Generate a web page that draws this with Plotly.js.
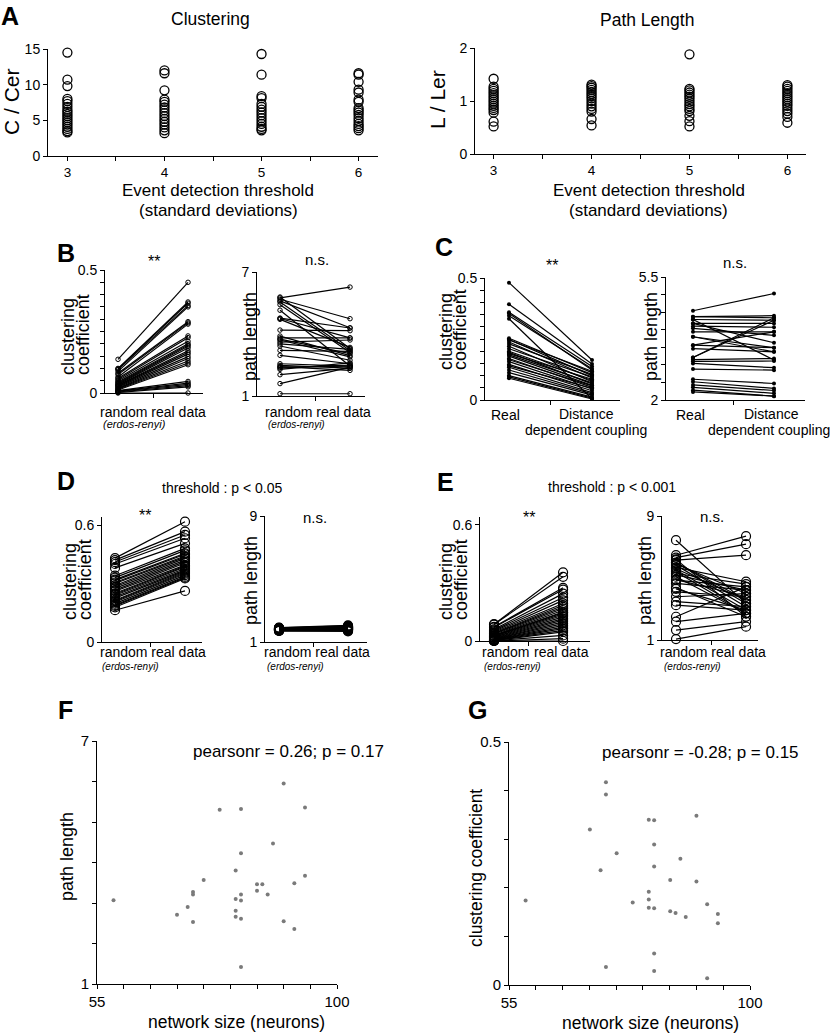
<!DOCTYPE html>
<html><head><meta charset="utf-8">
<script src="https://cdn.plot.ly/plotly-3.0.1.min.js"></script>
<style>html,body{margin:0;padding:0;background:#fff}#plot{width:832px;height:1034px}</style>
</head><body><div id="plot"></div>
<script>
// ---------- DATA ----------
const thresholds = [3, 4, 5, 6];
const thresholdTickText = ['3', '', '4', '', '5', '', '6'];
// Panel A: C / Cer per threshold
const ccer3 = [14.5, 10.7, 9.8, 8.0, 7.7, 7.3, 6.9, 6.5, 6.2, 5.9, 5.6, 5.3, 5.0, 4.7, 4.4, 4.1, 3.8, 3.5, 3.3];
const ccer4 = [12.0, 11.6, 9.2, 7.9, 7.6, 7.2, 6.8, 6.4, 6.0, 5.6, 5.2, 4.8, 4.4, 4.0, 3.6, 3.2];
const ccer5 = [14.3, 11.4, 8.4, 8.1, 7.3, 6.9, 6.5, 6.1, 5.7, 5.3, 4.9, 4.5, 4.1, 3.8, 3.6];
const ccer6 = [11.6, 11.4, 10.4, 9.3, 8.9, 7.9, 7.6, 6.7, 6.4, 6.1, 5.75, 5.3, 4.9, 4.5, 4.2, 3.9, 3.6];
// Panel A: L / Ler per threshold
const ller3 = [1.42, 1.27, 1.23, 1.19, 1.15, 1.11, 1.07, 1.03, 0.99, 0.95, 0.91, 0.87, 0.83, 0.78, 0.61, 0.52];
const ller4 = [1.31, 1.28, 1.25, 1.21, 1.17, 1.13, 1.09, 1.05, 1.0, 0.95, 0.9, 0.85, 0.8, 0.66, 0.54];
const ller5 = [1.88, 1.23, 1.20, 1.16, 1.12, 1.08, 1.04, 0.99, 0.94, 0.90, 0.85, 0.81, 0.72, 0.62, 0.52];
const ller6 = [1.30, 1.27, 1.23, 1.19, 1.15, 1.11, 1.07, 1.03, 0.99, 0.95, 0.91, 0.86, 0.81, 0.76, 0.70, 0.59];

// Panel B
const bClustRandom = [0.137, 0.10, 0.098, 0.095, 0.088, 0.08, 0.075, 0.065, 0.06, 0.055, 0.05, 0.045, 0.042, 0.038, 0.035, 0.032, 0.03, 0.027, 0.024, 0.02, 0.018, 0.015, 0.012, 0.01, 0.008, 0.006, 0.004, 0.002, 0.0];
const bClustReal   = [0.45, 0.37, 0.365, 0.355, 0.35, 0.29, 0.285, 0.28, 0.232, 0.225, 0.21, 0.20, 0.195, 0.19, 0.183, 0.172, 0.165, 0.158, 0.148, 0.14, 0.13, 0.122, 0.115, 0.047, 0.04, 0.035, 0.03, 0.025, 0.0];
const bPathRandom = [5.75, 5.79, 5.68, 5.55, 5.42, 5.15, 4.77, 4.71, 4.19, 3.81, 3.75, 3.71, 3.61, 3.52, 3.42, 3.21, 2.97, 2.56, 2.48, 2.42, 2.35, 2.29, 2.03, 1.6, 1.11, 3.9, 4.75, 2.4, 5.6];
const bPathReal   = [6.27, 3.3, 4.74, 3.2, 3.1, 2.45, 4.29, 3.35, 4.16, 3.81, 3.05, 2.89, 3.71, 3.26, 2.73, 3.16, 2.56, 2.45, 2.35, 2.24, 2.5, 2.6, 2.35, 2.4, 1.11, 2.95, 3.81, 2.45, 4.3];

// Panel C
const cClustReal = [0.481, 0.392, 0.36, 0.355, 0.345, 0.333, 0.253, 0.248, 0.246, 0.238, 0.23, 0.22, 0.21, 0.2, 0.195, 0.19, 0.185, 0.18, 0.17, 0.165, 0.157, 0.146, 0.14, 0.134, 0.123, 0.112, 0.10, 0.095, 0.089];
const cClustDist = [0.164, 0.148, 0.137, 0.123, 0.128, 0.005, 0.112, 0.10, 0.118, 0.09, 0.105, 0.075, 0.095, 0.08, 0.066, 0.085, 0.07, 0.06, 0.052, 0.058, 0.045, 0.038, 0.048, 0.03, 0.025, 0.02, 0.012, 0.008, 0.004];
const cPathReal = [4.54, 4.37, 4.37, 4.29, 4.29, 4.18, 4.18, 4.10, 4.04, 3.94, 3.80, 3.80, 3.56, 3.56, 3.46, 3.21, 3.21, 3.15, 3.10, 3.04, 2.88, 2.59, 2.52, 2.43, 2.36, 2.28, 2.23];
const cPathDist = [5.03, 4.40, 4.34, 4.27, 3.14, 4.18, 3.63, 4.07, 3.84, 3.94, 3.37, 3.49, 3.94, 3.49, 3.37, 4.34, 4.27, 3.18, 3.11, 2.92, 2.85, 2.47, 2.33, 2.27, 2.19, 2.11, 2.11];

// Panel D (p < 0.05)
const dClustRandom = [0.43, 0.42, 0.41, 0.40, 0.38, 0.34, 0.33, 0.32, 0.315, 0.305, 0.30, 0.29, 0.283, 0.275, 0.266, 0.26, 0.25, 0.245, 0.24, 0.232, 0.225, 0.214, 0.21, 0.205, 0.197, 0.19, 0.185, 0.178, 0.163];
const dClustReal   = [0.617, 0.566, 0.549, 0.532, 0.506, 0.48, 0.47, 0.455, 0.45, 0.441, 0.435, 0.429, 0.42, 0.412, 0.405, 0.394, 0.39, 0.385, 0.377, 0.37, 0.365, 0.36, 0.355, 0.35, 0.343, 0.335, 0.33, 0.326, 0.262];
const dPathRandom = [1.92, 1.90, 1.89, 1.88, 1.87, 1.86, 1.85, 1.85, 1.84, 1.83, 1.83, 1.82, 1.81, 1.81, 1.80, 1.80, 1.79, 1.78, 1.78, 1.77, 1.77, 1.76, 1.75, 1.75, 1.74, 1.73, 1.72, 1.71, 1.70];
const dPathReal   = [2.05, 2.02, 2.0, 1.98, 1.97, 1.96, 1.95, 1.94, 1.93, 1.92, 1.91, 1.9, 1.89, 1.88, 1.87, 1.86, 1.85, 1.84, 1.83, 1.82, 1.81, 1.8, 1.79, 1.78, 1.77, 1.75, 1.73, 1.7, 1.68];

// Panel E (p < 0.001)
const eClustRandom = [0.087, 0.085, 0.073, 0.07, 0.06, 0.055, 0.05, 0.045, 0.04, 0.038, 0.035, 0.03, 0.028, 0.025, 0.024, 0.02, 0.018, 0.015, 0.012, 0.01, 0.008, 0.006, 0.005, 0.004, 0.003, 0.002, 0.001, 0.0, 0.0];
const eClustReal   = [0.355, 0.332, 0.275, 0.266, 0.245, 0.225, 0.21, 0.194, 0.185, 0.176, 0.168, 0.159, 0.15, 0.147, 0.14, 0.133, 0.125, 0.116, 0.108, 0.099, 0.09, 0.081, 0.072, 0.064, 0.055, 0.047, 0.029, 0.012, 0.0];
const ePathRandom = [7.44, 6.47, 6.32, 6.15, 5.98, 5.83, 5.68, 5.51, 5.29, 5.08, 4.86, 4.65, 4.39, 4.11, 3.79, 3.47, 3.25, 2.50, 2.18, 1.64, 1.06, 6.2, 6.0, 5.9, 5.6, 5.4, 5.2, 4.9, 4.3];
const ePathReal   = [3.36, 7.70, 7.18, 6.47, 3.58, 3.15, 4.76, 2.93, 4.61, 2.72, 4.43, 4.22, 2.5, 3.79, 4.0, 3.15, 2.93, 4.43, 2.72, 2.18, 1.86, 2.5, 3.36, 4.0, 3.58, 2.72, 4.22, 3.79, 2.93];

// Panel F
const fSize = [58.1, 70, 72, 73, 73, 73, 75, 78, 81, 81, 81, 81, 82, 82, 82, 82, 82, 82, 85, 85, 86, 87, 88, 90, 90, 92, 92, 94, 94];
const fPath = [3.07, 2.71, 2.90, 2.53, 3.27, 3.21, 3.57, 5.30, 3.80, 3.10, 2.81, 2.66, 5.32, 4.23, 3.21, 3.06, 2.61, 1.42, 3.46, 3.30, 3.46, 3.21, 4.47, 5.95, 2.55, 3.49, 2.36, 5.36, 3.67];
// Panel G
const gSize = [58.1, 70.1, 72.1, 73.1, 73.1, 73.1, 75.1, 78.1, 81.1, 81.1, 81.1, 81.1, 82.1, 82.1, 82.1, 82.1, 82.1, 82.1, 85.1, 85.1, 86.1, 87, 88, 90, 90, 92, 92, 94, 94];
const gClust = [0.174, 0.320, 0.236, 0.417, 0.392, 0.037, 0.271, 0.170, 0.340, 0.192, 0.176, 0.159, 0.339, 0.289, 0.244, 0.158, 0.065, 0.029, 0.216, 0.152, 0.148, 0.260, 0.140, 0.348, 0.213, 0.166, 0.014, 0.146, 0.127];

// ---------- LAYOUT HELPERS ----------
const W = 832, H = 1034;
const FONT = 'Liberation Sans, Arial, Helvetica, sans-serif';
const xd = (a, b) => [a / W, b / W];
const yd = (top, bottom) => [1 - bottom / H, 1 - top / H];
function seq(a, b, s) { const o = []; for (let v = a; v <= b + 1e-9; v += s) o.push(+v.toFixed(4)); return o; }
function ends(vals, first, last) { return vals.map((v, i) => i === 0 ? first : (i === vals.length - 1 ? last : '')); }
function ax(domain, range, anchor, tickvals, ticktext, size) {
  return {
    domain, range, anchor, tickmode: 'array', tickvals, ticktext,
    showline: true, linecolor: '#000', linewidth: 1, mirror: false,
    ticks: tickvals.length ? 'outside' : '', ticklen: 4, tickwidth: 1, tickcolor: '#000',
    showgrid: false, zeroline: false, fixedrange: true,
    tickfont: { family: FONT, size: size || 14, color: '#000' }
  };
}
const pairX = (lo, hi, dom, anchor) => ax(dom, [lo, hi], anchor, [0.5], [''], 14);

function pairTrace(a, b, xa, ya, marker) {
  const x = [], y = [];
  for (let i = 0; i < a.length; i++) { x.push(0, 1, null); y.push(a[i], b[i], null); }
  return { x, y, xaxis: xa, yaxis: ya, type: 'scatter', mode: 'lines+markers',
    line: { color: '#000', width: 1.2 }, marker, cliponaxis: false, connectgaps: false, hoverinfo: 'skip', showlegend: false };
}
function colTrace(cols, xa, ya) {
  const x = [], y = [];
  cols.forEach((c, i) => c.forEach(v => { x.push(thresholds[i]); y.push(v); }));
  return { x, y, xaxis: xa, yaxis: ya, type: 'scatter', mode: 'markers',
    marker: { symbol: 'circle-open', size: 9, color: '#000', line: { width: 1.3, color: '#000' } },
    cliponaxis: false, hoverinfo: 'skip', showlegend: false };
}
function dotTrace(x, y, xa, ya) {
  return { x, y, xaxis: xa, yaxis: ya, type: 'scatter', mode: 'markers',
    marker: { symbol: 'circle', size: 4, color: '#7a7a7a' }, cliponaxis: false, hoverinfo: 'skip', showlegend: false };
}

const smallOpen = { symbol: 'circle-open', size: 4.5, color: '#000', line: { width: 1, color: '#000' } };
const smallDot = { symbol: 'circle', size: 4, color: '#000' };
const bigOpen = { symbol: 'circle-open', size: 9, color: '#000', line: { width: 1.2, color: '#000' } };

const traces = [
  colTrace([ccer3, ccer4, ccer5, ccer6], 'x', 'y'),
  colTrace([ller3, ller4, ller5, ller6], 'x2', 'y2'),
  pairTrace(bClustRandom, bClustReal, 'x3', 'y3', smallOpen),
  pairTrace(bPathRandom, bPathReal, 'x4', 'y4', smallOpen),
  pairTrace(cClustReal, cClustDist, 'x5', 'y5', smallDot),
  pairTrace(cPathReal, cPathDist, 'x6', 'y6', smallDot),
  pairTrace(dClustRandom, dClustReal, 'x7', 'y7', bigOpen),
  pairTrace(dPathRandom, dPathReal, 'x8', 'y8', bigOpen),
  pairTrace(eClustRandom, eClustReal, 'x9', 'y9', bigOpen),
  pairTrace(ePathRandom, ePathReal, 'x10', 'y10', bigOpen),
  dotTrace(fSize, fPath, 'x11', 'y11'),
  dotTrace(gSize, gClust, 'x12', 'y12')
];

const thrTicks = [3, 3.5, 4, 4.5, 5, 5.5, 6];
const clTicks05 = seq(0, 0.5, 0.05);
const cpTicks = seq(2, 5.5, 0.5);
const fxTicks = seq(55, 100, 5);
const fyTicks = seq(1, 7, 1);
const gyTicks = seq(0, 0.5, 0.1);

const layout = {
  width: W, height: H, margin: { l: 0, r: 0, t: 0, b: 0 },
  paper_bgcolor: '#fff', plot_bgcolor: 'rgba(0,0,0,0)', showlegend: false,
  font: { family: FONT, color: '#000' },
  // A
  xaxis: ax(xd(48, 378), [2.8, 6.2], 'y', thrTicks, thresholdTickText, 13.5),
  yaxis: ax(yd(49, 156), [0, 15], 'x', [0, 5, 10, 15], ['0', '5', '10', '15']),
  xaxis2: ax(xd(475, 806), [2.81, 6.19], 'y2', thrTicks, thresholdTickText, 13.5),
  yaxis2: ax(yd(48, 154), [0, 2], 'x2', [0, 1, 2], ['0', '1', '2']),
  // B
  xaxis3: pairX(-0.186, 1.214, xd(105, 203), 'y3'),
  yaxis3: ax(yd(270, 393), [0, 0.5], 'x3', clTicks05, ends(clTicks05, '0', '0.5')),
  xaxis4: pairX(-0.329, 1.214, xd(257, 365), 'y4'),
  yaxis4: ax(yd(272, 396), [1, 7], 'x4', [1, 7], ['1', '7']),
  // C
  xaxis5: pairX(-0.289, 1.337, xd(485, 620), 'y5'),
  yaxis5: ax(yd(278, 400), [0, 0.5], 'x5', clTicks05, ends(clTicks05, '0', '0.5')),
  xaxis6: pairX(-0.333, 1.383, xd(666, 805), 'y6'),
  yaxis6: ax(yd(277, 400), [2, 5.5], 'x6', cpTicks, ends(cpTicks, '2', '5.5')),
  // D
  xaxis7: pairX(-0.186, 1.243, xd(102, 202), 'y7'),
  yaxis7: ax(yd(517, 642), [0, 0.641], 'x7', [0, 0.6], ['0', '0.6']),
  xaxis8: pairX(-0.203, 1.275, xd(265, 367), 'y8'),
  yaxis8: ax(yd(516, 642), [1, 9], 'x8', [1, 9], ['1', '9']),
  // E
  xaxis9: pairX(-0.203, 1.39, xd(480, 590), 'y9'),
  yaxis9: ax(yd(517, 641), [0, 0.641], 'x9', [0, 0.6], ['0', '0.6']),
  xaxis10: pairX(-0.2, 1.171, xd(662, 758), 'y10'),
  yaxis10: ax(yd(516, 640), [1, 9], 'x10', [1, 9], ['1', '9']),
  // F
  xaxis11: ax(xd(97, 337), [55, 100], 'y11', fxTicks, ends(fxTicks, '55', '100'), 15),
  yaxis11: ax(yd(741, 984), [1, 7], 'x11', fyTicks, ends(fyTicks, '1', '7'), 15),
  // G
  xaxis12: ax(xd(509, 750), [55, 100], 'y12', fxTicks, ends(fxTicks, '55', '100'), 15),
  yaxis12: ax(yd(742, 985), [0, 0.5], 'x12', gyTicks, ends(gyTicks, '0', '0.5'), 15),
  annotations: []
};

function T(text, x, y, size, opts) {
  return Object.assign({ text, x: x / W, y: 1 - y / H, xref: 'paper', yref: 'paper', showarrow: false,
    font: { family: FONT, size, color: '#000' }, xanchor: 'center', yanchor: 'middle' }, opts || {});
}
const R = { textangle: -90 };
const A = layout.annotations;
// panel letters
[['A', 10, 16], ['B', 66, 253], ['C', 444, 247], ['D', 66, 481], ['E', 445, 482], ['F', 65, 710], ['G', 478, 710]]
  .forEach(([t, x, y]) => A.push(T('<b>' + t + '</b>', x, y, 25)));
// A
A.push(T('Clustering', 210, 19, 17.5));
A.push(T('Path Length', 647, 20, 17.5));
A.push(T('C / Cer', 12, 102, 21, R));
A.push(T('L / Ler', 438, 100, 21, R));
A.push(T('Event detection threshold', 218, 190, 17));
A.push(T('(standard deviations)', 218, 211, 17));
A.push(T('Event detection threshold', 649, 190, 17));
A.push(T('(standard deviations)', 648, 211, 17));
// B
A.push(T('**', 154, 261, 16));
A.push(T('n.s.', 317, 259, 15));
A.push(T('clustering', 68, 337, 18, R));
A.push(T('coefficient', 83, 335, 18, R));
A.push(T('path length', 250, 337, 18, R));
A.push(T('random real data', 153, 412, 14));
A.push(T('<i>(erdos-renyi)</i>', 101, 424, 11, { xanchor: 'left' }));
A.push(T('random real data', 318, 412, 14));
A.push(T('<i>(erdos-renyi)</i>', 266, 424, 10, { xanchor: 'left' }));
// C
A.push(T('**', 552, 265, 16));
A.push(T('n.s.', 735, 262, 15));
A.push(T('clustering', 446, 332, 18, R));
A.push(T('coefficient', 460, 330, 18, R));
A.push(T('path length', 651, 337, 18, R));
A.push(T('Real', 506, 415, 14));
A.push(T('Distance', 586, 414, 14));
A.push(T('dependent coupling', 586, 430, 14));
A.push(T('Real', 690, 415, 14));
A.push(T('Distance', 771, 414, 14));
A.push(T('dependent coupling', 769, 430, 14));
// D
A.push(T('threshold : p < 0.05', 222, 488, 14));
A.push(T('**', 145, 515, 16));
A.push(T('n.s.', 315, 517, 15));
A.push(T('clustering', 70, 582, 18, R));
A.push(T('coefficient', 85, 580, 18, R));
A.push(T('path length', 251, 581, 18, R));
A.push(T('random real data', 153, 652, 14));
A.push(T('<i>(erdos-renyi)</i>', 100, 666, 10, { xanchor: 'left' }));
A.push(T('random real data', 317, 652, 14));
A.push(T('<i>(erdos-renyi)</i>', 265, 666, 10, { xanchor: 'left' }));
// E
A.push(T('threshold : p < 0.001', 612, 487, 14));
A.push(T('**', 529, 517, 16));
A.push(T('n.s.', 712, 516, 15));
A.push(T('clustering', 446, 582, 18, R));
A.push(T('coefficient', 461, 580, 18, R));
A.push(T('path length', 645, 581, 18, R));
A.push(T('random', 506, 652, 14));
A.push(T('real data', 561, 652, 14));
A.push(T('<i>(erdos-renyi)</i>', 482, 666, 10, { xanchor: 'left' }));
A.push(T('random real data', 713, 652, 14));
A.push(T('<i>(erdos-renyi)</i>', 662, 666, 10, { xanchor: 'left' }));
// F
A.push(T('pearsonr = 0.26; p = 0.17', 288, 751, 17));
A.push(T('path length', 67, 857, 18, R));
A.push(T('network size (neurons)', 236, 1022, 17.5));
// G
A.push(T('pearsonr = -0.28; p = 0.15', 700, 752, 17));
A.push(T('clustering coefficient', 476, 868, 17.5, R));
A.push(T('network size (neurons)', 650, 1023, 17.5));

Plotly.newPlot('plot', traces, layout, { staticPlot: true, displayModeBar: false });
</script>
</body></html>
